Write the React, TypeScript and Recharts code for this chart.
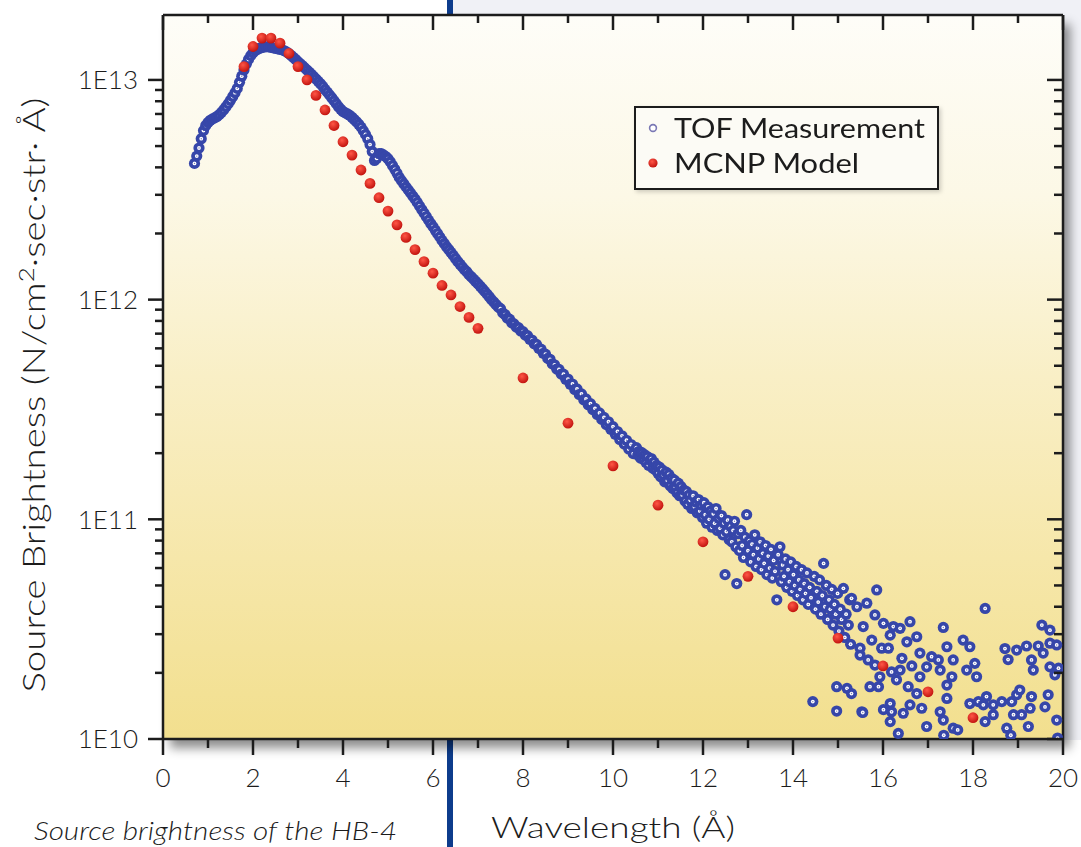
import React from "react";
import { ScatterChart, Scatter, XAxis, YAxis, CartesianGrid, Legend } from "recharts";

// brightness values are in units of 1E10 N/cm²·sec·str·Å
const xTicks = [0, 1, 2, 3, 4, 5, 6, 7, 8, 9, 10, 11, 12, 13, 14, 15, 16, 17, 18, 19, 20];
const yDecades = [1, 10, 100, 1000];
const yDecadeLabels = ["1E10", "1E11", "1E12", "1E13"];
const yMinorSteps = [1, 2, 3, 4, 5, 6, 7, 8, 9];
const yMax = 1975;

const seriesNames = ["TOF Measurement", "MCNP Model"];

const mcnpWavelength = [1.8, 2.0, 2.2, 2.4, 2.6, 2.8, 3.0, 3.2, 3.4, 3.6, 3.8, 4.0, 4.2, 4.4, 4.6, 4.8, 5.0, 5.2, 5.4, 5.6, 5.8, 6.0, 6.2, 6.4, 6.6, 6.8, 7.0, 8, 9, 10, 11, 12, 13, 14, 15, 16, 17, 18];
const mcnpBrightness = [1150, 1420, 1550, 1550, 1470, 1320, 1150, 1000, 850, 730, 620, 523, 455, 389, 338, 291, 253, 219, 192, 169, 149, 132, 116, 105, 93, 83, 74, 44, 27.4, 17.5, 11.6, 7.9, 5.5, 4.0, 2.88, 2.15, 1.64, 1.25];

// smooth part of the measured spectrum
const tofDense: [number, number][] = [
  [0.70, 417], [0.75, 450], [0.80, 490], [0.85, 540], [0.90, 588], [0.95, 620], [1.00, 640], [1.05, 655], [1.10, 665], [1.15, 672],
  [1.20, 682], [1.25, 695], [1.30, 712], [1.35, 732], [1.40, 755], [1.45, 780], [1.50, 808], [1.55, 840], [1.60, 875], [1.65, 915],
  [1.70, 975], [1.75, 1040], [1.80, 1110], [1.85, 1180], [1.90, 1240], [1.95, 1290], [2.00, 1330], [2.05, 1360], [2.10, 1380], [2.15, 1395],
  [2.20, 1405], [2.25, 1412], [2.30, 1416], [2.35, 1414], [2.40, 1408], [2.45, 1400], [2.50, 1392], [2.55, 1385], [2.60, 1378], [2.65, 1370],
  [2.70, 1358], [2.75, 1340], [2.80, 1318], [2.85, 1292], [2.90, 1265], [2.95, 1238], [3.00, 1210], [3.05, 1185], [3.10, 1160], [3.15, 1135],
  [3.20, 1110], [3.25, 1085], [3.30, 1060], [3.35, 1035], [3.40, 1010], [3.45, 985], [3.50, 960], [3.55, 935], [3.60, 905], [3.65, 880],
  [3.70, 855], [3.75, 830], [3.80, 805], [3.85, 780], [3.90, 755], [3.95, 735], [4.00, 718], [4.05, 708], [4.10, 700], [4.15, 690],
  [4.20, 676], [4.25, 660], [4.30, 645], [4.35, 628], [4.40, 610], [4.45, 588], [4.50, 565], [4.55, 540], [4.60, 508], [4.65, 472],
  [4.70, 430], [4.75, 440], [4.80, 462], [4.85, 462], [4.90, 456], [4.95, 448], [5.00, 438], [5.05, 424], [5.10, 408], [5.15, 392],
  [5.20, 376], [5.25, 360], [5.30, 348], [5.35, 337], [5.40, 326], [5.45, 316], [5.50, 306], [5.55, 296], [5.60, 287], [5.65, 277],
  [5.70, 267], [5.75, 257], [5.80, 248], [5.85, 239], [5.90, 230], [5.95, 222], [6.00, 215], [6.05, 207], [6.10, 200], [6.15, 193],
  [6.20, 186], [6.25, 180], [6.30, 174], [6.35, 169], [6.40, 164], [6.45, 159], [6.50, 154], [6.55, 149], [6.60, 145], [6.65, 141],
  [6.70, 137], [6.75, 134], [6.80, 130], [6.85, 127], [6.90, 124], [6.95, 121], [7.00, 118], [7.05, 115], [7.10, 112], [7.15, 109],
  [7.20, 106], [7.25, 103], [7.30, 100], [7.35, 97.5], [7.40, 95], [7.45, 92.5], [7.50, 91], [7.55, 87], [7.60, 85.5], [7.65, 82.5],
  [7.70, 81.5], [7.75, 78.5], [7.80, 77.5], [7.85, 75], [7.90, 74.5], [7.95, 72], [8.00, 71.5], [8.05, 69], [8.10, 68.5], [8.15, 66],
  [8.20, 65.5], [8.25, 63], [8.30, 62.5], [8.35, 60], [8.40, 59.5], [8.45, 57], [8.50, 56.5], [8.55, 54], [8.60, 53.5], [8.65, 51],
  [8.70, 50.5], [8.75, 48.3], [8.80, 48.1], [8.85, 45.8], [8.90, 45.8], [8.95, 43.4], [9.00, 43.5], [9.05, 41.2], [9.10, 41.3], [9.15, 39],
  [9.20, 39.2], [9.25, 37], [9.30, 37.2], [9.35, 35], [9.40, 35.3], [9.45, 33.2], [9.50, 33.6], [9.55, 31.6], [9.60, 32], [9.65, 30],
  [9.70, 30.5], [9.75, 28.5], [9.80, 29.1], [9.85, 27], [9.90, 27.8], [9.95, 25.7], [10.00, 26.4], [10.05, 24.4], [10.10, 25.1], [10.15, 23.1],
  [10.20, 24], [10.25, 22], [10.30, 22.9], [10.35, 20.9], [10.40, 21.9], [10.45, 19.9],
];

// noisy long-wavelength tail
const tofTail: [number, number][] = [
  [10.52, 21.2], [10.55, 19.6], [10.58, 20.4], [10.61, 19.0], [10.64, 20.1], [10.67, 18.8], [10.70, 19.7], [10.73, 18.2], [10.76, 19.3], [10.79, 17.6],
  [10.82, 18.6], [10.85, 18.9], [10.88, 17.1], [10.91, 18.2], [10.94, 16.8], [10.97, 17.6], [11.00, 16.2], [11.03, 17.3], [11.06, 15.6], [11.09, 16.8],
  [11.12, 15.9], [11.15, 14.8], [11.18, 16.4], [11.21, 15.0], [11.24, 16.0], [11.27, 14.2], [11.30, 15.4], [11.33, 13.8], [11.36, 15.1], [11.39, 14.0],
  [11.42, 13.2], [11.45, 14.6], [11.48, 12.8], [11.51, 14.1], [11.54, 12.9], [11.57, 13.6], [11.60, 12.1], [11.63, 13.4], [11.66, 11.7], [11.69, 12.9],
  [11.72, 12.2], [11.75, 11.2], [11.78, 12.8], [11.81, 11.4], [11.84, 12.0], [11.87, 10.7], [11.90, 12.3], [11.93, 10.9], [11.96, 11.6], [11.99, 10.2],
  [12.02, 11.9], [12.05, 10.5], [12.08, 9.6], [12.11, 11.4], [12.14, 10.0], [12.17, 10.9], [12.20, 9.2], [12.23, 10.6], [12.26, 9.6], [12.29, 11.2],
  [12.32, 8.9], [12.35, 10.1], [12.38, 9.1], [12.41, 10.4], [12.44, 8.5], [12.47, 9.6], [12.49, 5.6], [12.52, 8.8], [12.55, 9.9], [12.58, 8.1],
  [12.61, 9.3], [12.64, 7.9], [12.67, 8.9], [12.70, 9.8], [12.73, 7.5], [12.75, 5.1], [12.78, 8.6], [12.81, 7.2], [12.84, 8.9], [12.87, 7.6],
  [12.90, 6.7], [12.93, 8.3], [12.97, 10.5], [13.00, 7.2], [13.03, 8.0], [13.06, 6.4], [13.09, 7.7], [13.12, 6.9], [13.15, 8.5], [13.18, 6.1],
  [13.21, 7.4], [13.24, 6.6], [13.27, 7.9], [13.30, 5.9], [13.33, 7.0], [13.36, 6.3], [13.39, 7.6], [13.42, 5.6], [13.45, 6.8], [13.48, 6.0],
  [13.51, 7.3], [13.54, 5.4], [13.57, 6.5], [13.60, 5.8], [13.64, 4.3], [13.67, 6.9], [13.71, 7.5], [13.74, 5.2], [13.77, 6.2], [13.80, 5.5],
  [13.83, 6.6], [13.86, 4.9], [13.89, 5.9], [13.92, 5.2], [13.95, 6.4], [13.98, 4.7], [14.01, 5.6], [14.04, 5.0], [14.07, 6.1], [14.10, 4.5],
  [14.13, 5.3], [14.16, 4.8], [14.19, 5.9], [14.22, 4.3], [14.25, 5.1], [14.28, 4.6], [14.31, 5.7], [14.34, 4.1], [14.37, 4.9], [14.40, 4.4],
  [14.44, 1.48], [14.47, 5.5], [14.50, 3.9], [14.53, 4.7], [14.56, 4.2], [14.59, 5.3], [14.62, 3.7], [14.65, 4.5], [14.68, 6.3], [14.71, 4.0],
  [14.74, 5.0], [14.77, 3.5], [14.80, 4.3], [14.83, 3.9], [14.86, 4.8], [14.89, 3.3], [14.92, 4.1], [14.95, 3.7], [14.97, 1.73], [14.97, 1.34],
  [14.99, 4.6], [15.02, 3.1], [15.05, 3.9], [15.08, 3.5], [15.12, 4.85], [15.15, 2.9], [15.18, 3.7], [15.20, 1.70], [15.23, 3.3], [15.26, 4.3],
  [15.28, 2.7], [15.30, 4.37], [15.30, 1.61], [15.42, 4.00], [15.49, 2.59], [15.49, 2.41], [15.53, 1.33], [15.55, 1.32], [15.56, 3.25], [15.64, 4.15],
  [15.67, 2.29], [15.71, 1.73], [15.75, 2.82], [15.82, 3.67], [15.82, 2.17], [15.86, 4.77], [15.90, 1.73], [15.93, 1.92], [15.97, 2.59], [16.01, 3.36],
  [16.01, 1.36], [16.12, 2.59], [16.16, 2.97], [16.16, 1.45], [16.16, 1.20], [16.19, 2.02], [16.19, 1.33], [16.23, 3.25], [16.30, 1.86], [16.34, 1.06],
  [16.38, 3.19], [16.38, 2.06], [16.42, 2.33], [16.45, 1.31], [16.53, 2.77], [16.56, 1.73], [16.60, 3.42], [16.60, 1.43], [16.64, 2.15], [16.75, 2.92],
  [16.75, 1.61], [16.82, 2.46], [16.82, 1.92], [16.86, 1.38], [16.97, 2.13], [16.97, 1.14], [17.08, 2.37], [17.23, 2.29], [17.27, 2.06], [17.27, 1.33],
  [17.34, 3.22], [17.34, 1.22], [17.35, 1.04], [17.42, 2.63], [17.42, 1.76], [17.42, 1.53], [17.53, 1.92], [17.56, 2.29], [17.56, 1.12], [17.66, 1.10],
  [17.78, 2.82], [17.86, 2.06], [17.93, 2.63], [17.93, 1.45], [18.04, 2.21], [18.08, 1.92], [18.12, 1.48], [18.23, 1.43], [18.27, 3.93], [18.27, 1.20],
  [18.30, 1.56], [18.45, 1.43], [18.45, 1.29], [18.64, 1.48], [18.71, 2.58], [18.75, 1.12], [18.78, 2.30], [18.84, 1.04], [18.86, 1.48], [18.90, 1.29],
  [18.97, 2.54], [18.97, 1.59], [19.04, 1.67], [19.08, 1.29], [19.19, 2.65], [19.23, 1.14], [19.27, 1.38], [19.30, 2.29], [19.30, 1.56], [19.34, 2.06],
  [19.45, 2.65], [19.53, 3.30], [19.56, 2.46], [19.60, 1.40], [19.67, 1.59], [19.71, 2.73], [19.71, 3.13], [19.71, 2.13], [19.82, 1.96], [19.86, 2.68],
  [19.86, 1.22], [19.88, 1.01], [19.90, 2.10],
];

const tofData = [...tofDense, ...tofTail].map(([x, y]) => ({ x, y }));
const mcnpData = mcnpWavelength.map((x, i) => ({ x, y: mcnpBrightness[i] }));
const yTicks = yDecades.flatMap((d) => yMinorSteps.map((m) => d * m)).filter((v) => v <= yMax);

const FONT = "Lato, 'DejaVu Sans', sans-serif";
const INK = "#1c1c1c";

const TofMarker = ({ cx, cy }: any) => (
  <g>
    <circle cx={cx} cy={cy} r={5.6} fill="#3646a9" />
    <circle cx={cx} cy={cy} r={1.9} fill="#ffffff" />
    <circle cx={cx} cy={cy} r={0.7} fill="#7a7cb8" />
  </g>
);

const McnpMarker = ({ cx, cy }: any) => (
  <circle cx={cx} cy={cy} r={5.4} fill="url(#redDot)" />
);

const BottomTick = ({ x, y, payload }: any) => {
  const major = payload.value % 2 === 0;
  return (
    <g>
      <line x1={x} x2={x} y1={y} y2={y + (major ? 16 : 9)} stroke={INK} strokeWidth={2.5} />
      {major && (
        <text x={x} y={y + 48} textAnchor="middle" fontSize={26} fontFamily={FONT} fontWeight={300} fill={INK}>
          {payload.value}
        </text>
      )}
    </g>
  );
};

const TopTick = ({ x, y, payload }: any) => {
  const major = payload.value % 2 === 0;
  return <line x1={x} x2={x} y1={y} y2={y + (major ? 15 : 8)} stroke={INK} strokeWidth={2.5} />;
};

const LeftTick = ({ x, y, payload }: any) => {
  const idx = yDecades.indexOf(payload.value);
  const major = idx >= 0;
  return (
    <g>
      <line x1={x - (major ? 15 : 8)} x2={x} y1={y} y2={y} stroke={INK} strokeWidth={2.5} />
      {major && (
        <text x={x - 25} y={y} dy="0.36em" textAnchor="end" fontSize={26} fontFamily={FONT} fontWeight={300} fill={INK}>
          {yDecadeLabels[idx]}
        </text>
      )}
    </g>
  );
};

const RightTick = ({ x, y, payload }: any) => {
  const major = yDecades.indexOf(payload.value) >= 0;
  return <line x1={x - (major ? 16 : 9)} x2={x} y1={y} y2={y} stroke={INK} strokeWidth={2.5} />;
};

const LegendBox = () => (
  <svg width={305} height={84} style={{ display: "block", filter: "drop-shadow(2px 2px 2px rgba(0,0,0,0.18))" }}>
    <defs>
      <radialGradient id="redDotLegend" cx="40%" cy="35%" r="65%">
        <stop offset="0%" stopColor="#ff5646" />
        <stop offset="100%" stopColor="#c2140f" />
      </radialGradient>
    </defs>
    <rect x={1} y={1} width={303} height={82} fill="#fcfbf5" stroke={INK} strokeWidth={2} />
    <circle cx={19} cy={22} r={3.4} fill="#ffffff" stroke="#7a78b4" strokeWidth={1.6} />
    <circle cx={19} cy={57} r={4.6} fill="url(#redDotLegend)" />
    <text x={40} y={32} fontSize={27} fontFamily={FONT} fontWeight={400} fill={INK} textLength={251} lengthAdjust="spacingAndGlyphs">
      {seriesNames[0]}
    </text>
    <text x={40} y={67} fontSize={27} fontFamily={FONT} fontWeight={400} fill={INK} textLength={185} lengthAdjust="spacingAndGlyphs">
      {seriesNames[1]}
    </text>
  </svg>
);

const axisLine = { stroke: INK, strokeWidth: 2.5 };

export default function App() {
  return (
    <div style={{ position: "absolute", left: 0, top: 0, width: 1081, height: 847, background: "#ffffff", overflow: "hidden" }}>
      {/* page furniture behind the chart */}
      <div style={{ position: "absolute", left: 453, top: 0, width: 628, height: 740, background: "#f0f1f6" }} />
      <div style={{ position: "absolute", left: 447, top: 0, width: 6, height: 847, background: "#0d3c8c" }} />
      <div style={{ position: "absolute", left: 163, top: 15, width: 900, height: 724, background: "#f2df8e", boxShadow: "7px 9px 10px rgba(0,0,0,0.45)" }} />

      <div style={{ position: "absolute", left: 0, top: 0 }}>
        <ScatterChart width={1081} height={847} margin={{ top: 14, right: 17, bottom: 107, left: 162 }}>
          <defs>
            <linearGradient id="plotBg" x1="0" y1="0" x2="0" y2="1">
              <stop offset="0%" stopColor="#fefdf8" />
              <stop offset="25%" stopColor="#fcf8e6" />
              <stop offset="50%" stopColor="#f9efc6" />
              <stop offset="75%" stopColor="#f6e7aa" />
              <stop offset="100%" stopColor="#f2df8e" />
            </linearGradient>
            <radialGradient id="redDot" cx="40%" cy="35%" r="65%">
              <stop offset="0%" stopColor="#ff5646" />
              <stop offset="100%" stopColor="#c2140f" />
            </radialGradient>
          </defs>
          <CartesianGrid horizontal={false} vertical={false} fill="url(#plotBg)" stroke="none" />
          <XAxis
            xAxisId="b"
            type="number"
            dataKey="x"
            domain={[0, 20]}
            ticks={xTicks}
            interval={0}
            height={1}
            tickSize={0}
            tickMargin={0}
            tickLine={false}
            axisLine={axisLine}
            tick={(p: any) => <BottomTick {...p} />}
            allowDataOverflow
          />
          <XAxis
            xAxisId="t"
            orientation="top"
            type="number"
            dataKey="x"
            domain={[0, 20]}
            ticks={xTicks}
            interval={0}
            height={1}
            tickSize={0}
            tickMargin={0}
            tickLine={false}
            axisLine={axisLine}
            tick={(p: any) => <TopTick {...p} />}
            allowDataOverflow
          />
          <YAxis
            yAxisId="l"
            type="number"
            dataKey="y"
            scale="log"
            domain={[1, yMax]}
            ticks={yTicks}
            interval={0}
            width={1}
            tickSize={0}
            tickMargin={0}
            tickLine={false}
            axisLine={axisLine}
            tick={(p: any) => <LeftTick {...p} />}
            allowDataOverflow
          />
          <YAxis
            yAxisId="r"
            orientation="right"
            type="number"
            dataKey="y"
            scale="log"
            domain={[1, yMax]}
            ticks={yTicks}
            interval={0}
            width={1}
            tickSize={0}
            tickMargin={0}
            tickLine={false}
            axisLine={axisLine}
            tick={(p: any) => <RightTick {...p} />}
            allowDataOverflow
          />
          <Scatter
            name={seriesNames[0]}
            data={tofData}
            xAxisId="b"
            yAxisId="l"
            isAnimationActive={false}
            shape={(p: any) => <TofMarker cx={p.cx} cy={p.cy} />}
          />
          <Scatter
            name={seriesNames[1]}
            data={mcnpData}
            xAxisId="b"
            yAxisId="l"
            isAnimationActive={false}
            shape={(p: any) => <McnpMarker cx={p.cx} cy={p.cy} />}
          />
          <Legend
            layout="vertical"
            align="center"
            verticalAlign="middle"
            wrapperStyle={{ left: 634, top: 106, width: 305, height: 84 }}
            content={() => <LegendBox />}
          />
        </ScatterChart>
      </div>

      {/* axis titles and caption */}
      <svg width={1081} height={847} style={{ position: "absolute", left: 0, top: 0, pointerEvents: "none" }}>
        <text
          transform="translate(45, 395) rotate(-90)"
          textAnchor="middle"
          fontSize={31}
          fontFamily={FONT}
          fontWeight={300}
          fill={INK}
          textLength={595}
          lengthAdjust="spacingAndGlyphs"
        >
          Source Brightness (N/cm<tspan fontSize={21} dy={-11}>2</tspan>
          <tspan dy={11}>·sec·str· Å)</tspan>
        </text>
        <text x={613} y={838} textAnchor="middle" fontSize={30} fontFamily={FONT} fontWeight={300} fill={INK} textLength={244} lengthAdjust="spacingAndGlyphs">
          Wavelength (Å)
        </text>
        <text x={34} y={840} fontSize={25} fontStyle="italic" fontFamily={FONT} fontWeight={300} fill={INK} textLength={363} lengthAdjust="spacingAndGlyphs">
          Source brightness of the HB-4
        </text>
      </svg>
    </div>
  );
}
